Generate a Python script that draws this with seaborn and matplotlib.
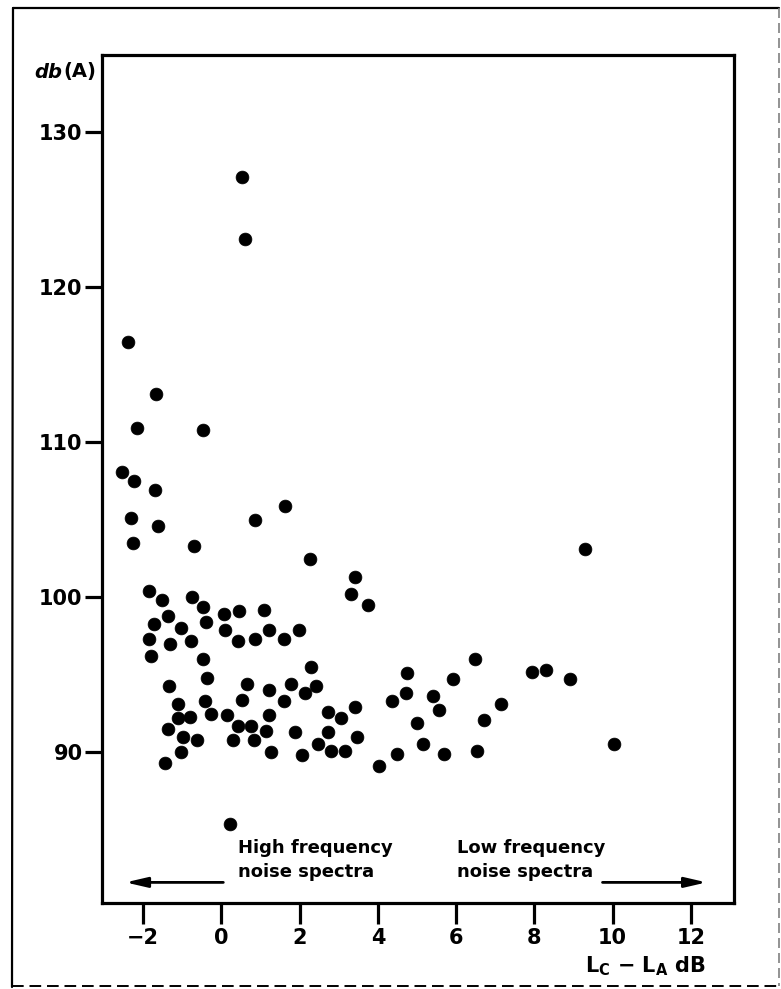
import matplotlib
matplotlib.use("Agg")
import matplotlib.pyplot as plt
import seaborn as sns
import pandas as pd
from matplotlib.lines import Line2D

# Valores: diferencia L_C - L_A (dB) y nivel dB(A)
lc_la = [0.53, 0.61, -2.38, -1.67, -2.15, -0.47, -2.54, -2.23, -1.70, -2.30,
         -1.62, 0.85, 1.63, -2.25, -0.71, 2.26, 9.29, 3.42, 3.31, 3.75,
         -1.84, -1.51, -0.76, -0.48, -0.39, 0.06, 0.46, 1.09, -1.72, -1.36,
         -1.04, -1.84, -1.31, -0.78, 0.10, 0.43, 0.85, 1.22, 1.59, 1.98,
         -1.81, -0.46, -0.37, -1.34, 0.66, 0.52, 1.22, 1.78, 2.29, 2.43,
         2.15, 1.59, -1.11, -0.41, -0.27, 0.14, -0.79, -1.11, -1.37, -0.99,
         -0.62, -1.04, -1.44, 0.42, 0.76, 0.29, 0.84, 1.22, 1.15, 1.27,
         1.88, 2.07, 2.46, 2.72, 3.07, 2.73, 2.80, 3.17, 3.41, 3.47,
         4.03, 4.35, 4.49, 4.71, 4.75, 5.00, 5.14, 5.41, 5.55, 5.69,
         5.93, 6.49, 6.53, 6.72, 7.14, 7.94, 8.30, 8.91, 10.03, 0.22]
dba = [127.1, 123.1, 116.5, 113.1, 110.9, 110.8, 108.1, 107.5, 106.9, 105.1,
       104.6, 105.0, 105.9, 103.5, 103.3, 102.5, 103.1, 101.3, 100.2, 99.5,
       100.4, 99.8, 100.0, 99.4, 98.4, 98.9, 99.1, 99.2, 98.3, 98.8,
       98.0, 97.3, 97.0, 97.2, 97.9, 97.2, 97.3, 97.9, 97.3, 97.9,
       96.2, 96.0, 94.8, 94.3, 94.4, 93.4, 94.0, 94.4, 95.5, 94.3,
       93.8, 93.3, 93.1, 93.3, 92.5, 92.4, 92.3, 92.2, 91.5, 91.0,
       90.8, 90.0, 89.3, 91.7, 91.7, 90.8, 90.8, 92.4, 91.4, 90.0,
       91.3, 89.8, 90.5, 92.6, 92.2, 91.3, 90.1, 90.1, 92.9, 91.0,
       89.1, 93.3, 89.9, 93.8, 95.1, 91.9, 90.5, 93.6, 92.7, 89.9,
       94.7, 96.0, 90.1, 92.1, 93.1, 95.2, 95.3, 94.7, 90.5, 85.4]

x_ticks = [-2, 0, 2, 4, 6, 8, 10, 12]
y_ticks = [90, 100, 110, 120, 130]

df = pd.DataFrame({"lc_la": lc_la, "dba": dba})

sns.set_style("ticks")
plt.rcParams["font.family"] = ["DejaVu Sans"]
plt.rcParams["font.weight"] = "bold"
plt.rcParams["text.color"] = "black"
plt.rcParams["xtick.color"] = "black"
plt.rcParams["ytick.color"] = "black"

fig = plt.figure(figsize=(7.81, 9.89), dpi=100)
ax = fig.add_axes([102 / 781, 1 - 903 / 989, (734 - 102) / 781, (903 - 55) / 989])

sns.scatterplot(data=df, x="lc_la", y="dba", ax=ax, color="black",
                edgecolor="black", s=85, linewidth=0.5, legend=False)

ax.set_xlim(-3.05, 13.1)
ax.set_ylim(80.27, 135.0)
ax.set_xticks(x_ticks)
ax.set_xticklabels(["\u22122" if t == -2 else str(t) for t in x_ticks])
ax.set_yticks(y_ticks)
ax.set_xlabel("")
ax.set_ylabel("")

for s in ax.spines.values():
    s.set_linewidth(2.3)
    s.set_color("black")
ax.tick_params(axis="both", width=2.3, color="black", labelsize=15,
               labelcolor="black")
ax.tick_params(axis="x", length=15, pad=3)
ax.tick_params(axis="y", length=12, pad=2)

# flechas y textos de las zonas de frecuencia
arrow = dict(arrowstyle="-|>,head_length=1.3,head_width=0.3", lw=2,
             color="black", shrinkA=0, shrinkB=0)
ax.annotate("", xy=(-2.45, 81.6), xytext=(0.05, 81.6), arrowprops=arrow)
ax.annotate("", xy=(12.4, 81.6), xytext=(9.74, 81.6), arrowprops=arrow)
ax.text(0.43, 84.4, "High frequency\nnoise spectra", fontsize=13,
        fontweight="bold", ha="left", va="top", linespacing=1.45)
ax.text(6.02, 84.4, "Low frequency\nnoise spectra", fontsize=13,
        fontweight="bold", ha="left", va="top", linespacing=1.45)

# etiquetas de ejes
fig.text(34 / 781, 1 - 72 / 989, "db", fontsize=14, fontweight="bold",
         style="italic", ha="left", va="center")
fig.text(63.5 / 781, 1 - 72 / 989, "(A)", fontsize=14, fontweight="bold",
         ha="left", va="center")
fig.text(706 / 781, 1 - 966 / 989,
         r"L$_\mathregular{C}$ $-$ L$_\mathregular{A}$ dB",
         fontsize=15, fontweight="bold", ha="right", va="center")

# marco exterior
fig.add_artist(Line2D([13 / 781, 779 / 781], [1 - 8 / 989, 1 - 8 / 989],
                      transform=fig.transFigure, color="black", lw=1.6))
fig.add_artist(Line2D([13 / 781, 12 / 781], [1 - 8 / 989, 1 - 987 / 989],
                      transform=fig.transFigure, color="black", lw=1.6))
fig.add_artist(Line2D([12 / 781, 779 / 781], [1 - 986 / 989, 1 - 986 / 989],
                      transform=fig.transFigure, color="black", lw=1.4,
                      ls=(0, (6, 3))))
fig.add_artist(Line2D([779 / 781, 779 / 781], [1 - 8 / 989, 1 - 986 / 989],
                      transform=fig.transFigure, color="gray", lw=1.2,
                      ls=(0, (6, 3))))

fig.savefig("out.png", dpi=100)
